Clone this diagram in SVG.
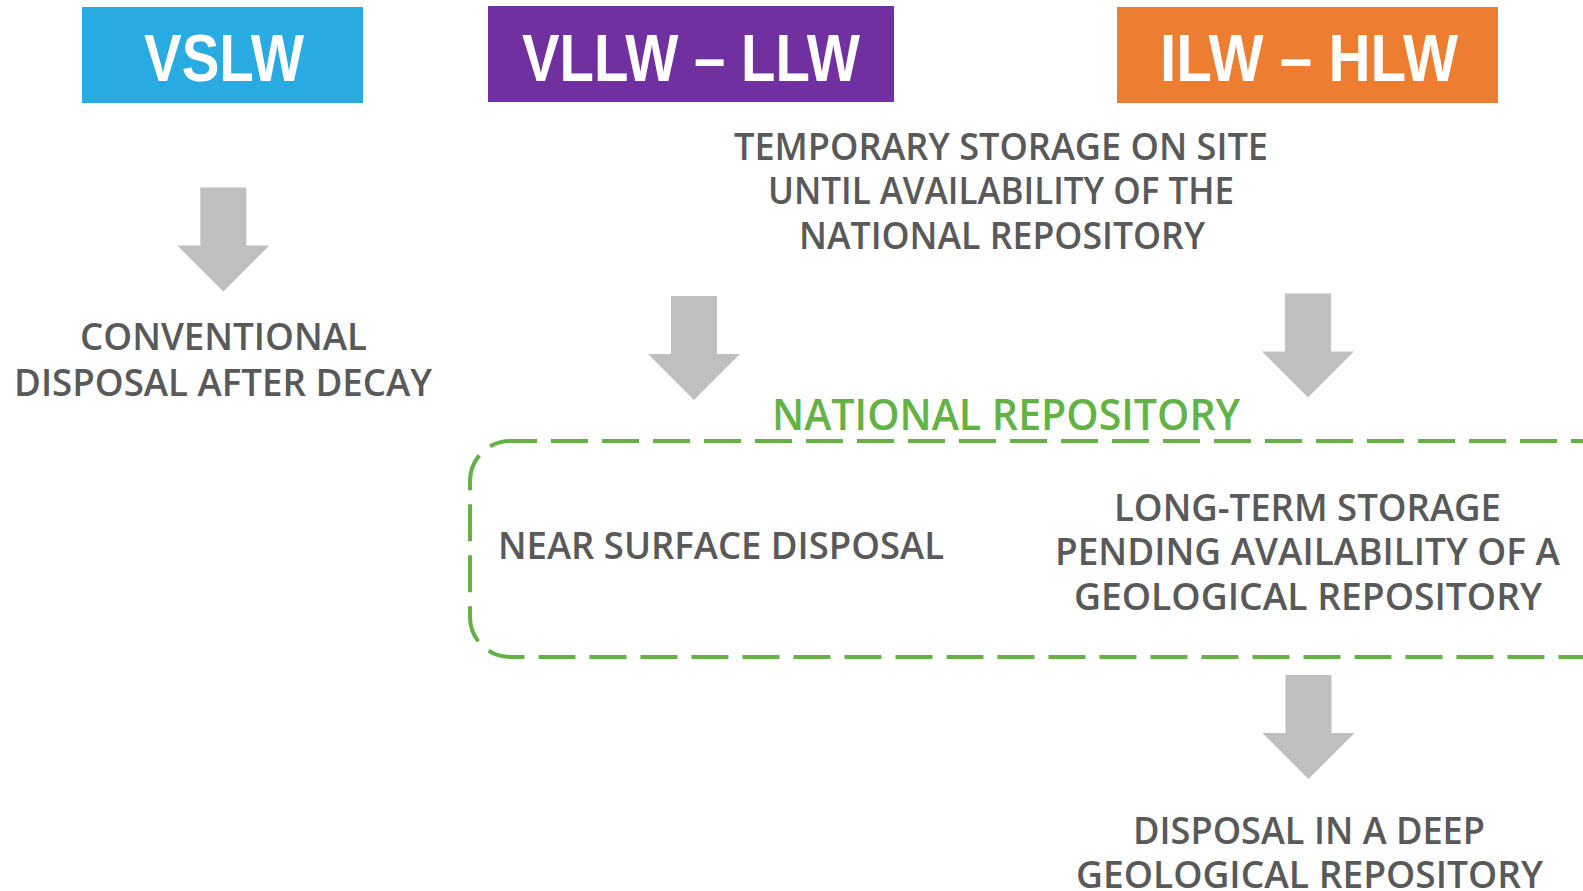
<svg xmlns="http://www.w3.org/2000/svg" width="1583" height="891" viewBox="0 0 1583 891">
  <style>
    .hdr { font-family: "Liberation Sans", Arial, sans-serif; font-size: 66px; font-weight: bold; fill: #FFFFFF; text-anchor: middle; }
    .lbl { font-family: "Open Sans", "Liberation Sans", sans-serif; font-size: 37.5px; font-weight: 600; fill: #595959; text-anchor: middle; }
    .grn { font-family: "Open Sans", "Liberation Sans", sans-serif; font-size: 43px; font-weight: 600; fill: #62B246; text-anchor: middle; }
    .arrow { fill: #BFBFBF; }
  </style>
  <defs>
    <path id="downArrow" d="M -23 0 H 23 V 58 H 46 L 0 104 L -46 58 H -23 Z"/>
  </defs>
  <rect width="1583" height="891" fill="#FFFFFF"/>

  <g id="vslw">
    <rect x="82" y="7" width="281" height="96" fill="#29ABE2"/>
    <text class="hdr" x="224" y="81" textLength="160" lengthAdjust="spacingAndGlyphs">VSLW</text>
  </g>
  <g id="vllw-llw">
    <rect x="488" y="6" width="406" height="96" fill="#7030A0"/>
    <text class="hdr" x="691" y="81" textLength="338" lengthAdjust="spacingAndGlyphs">VLLW – LLW</text>
  </g>
  <g id="ilw-hlw">
    <rect x="1117" y="7" width="381" height="96" fill="#ED7D31"/>
    <text class="hdr" x="1309" y="81" textLength="298" lengthAdjust="spacingAndGlyphs">ILW – HLW</text>
  </g>

  <g id="conventional">
    <text class="lbl" x="223.5" y="350" textLength="287" lengthAdjust="spacingAndGlyphs">CONVENTIONAL</text>
    <text class="lbl" x="223" y="396" textLength="418" lengthAdjust="spacingAndGlyphs">DISPOSAL AFTER DECAY</text>
  </g>

  <g id="temporary-storage">
    <text class="lbl" x="1001" y="159.5" textLength="534" lengthAdjust="spacingAndGlyphs">TEMPORARY STORAGE ON SITE</text>
    <text class="lbl" x="1001" y="204" textLength="466" lengthAdjust="spacingAndGlyphs">UNTIL AVAILABILITY OF THE</text>
    <text class="lbl" x="1002" y="248.5" textLength="406" lengthAdjust="spacingAndGlyphs">NATIONAL REPOSITORY</text>
  </g>

  <g id="national-repository">
    <rect x="470" y="441" width="1150" height="216" rx="40" ry="40" fill="none" stroke="#62B246" stroke-width="4" stroke-dasharray="37 14" stroke-dashoffset="10"/>
    <text class="grn" x="1006" y="430" textLength="468" lengthAdjust="spacingAndGlyphs">NATIONAL REPOSITORY</text>
  </g>

  <g id="near-surface">
    <text class="lbl" x="721" y="559" textLength="446" lengthAdjust="spacingAndGlyphs">NEAR SURFACE DISPOSAL</text>
  </g>

  <g id="long-term-storage">
    <text class="lbl" x="1307.5" y="521" textLength="387" lengthAdjust="spacingAndGlyphs">LONG-TERM STORAGE</text>
    <text class="lbl" x="1307.5" y="565" textLength="505" lengthAdjust="spacingAndGlyphs">PENDING AVAILABILITY OF A</text>
    <text class="lbl" x="1308" y="610" textLength="468" lengthAdjust="spacingAndGlyphs">GEOLOGICAL REPOSITORY</text>
  </g>

  <g id="deep-disposal">
    <text class="lbl" x="1309" y="844" textLength="352" lengthAdjust="spacingAndGlyphs">DISPOSAL IN A DEEP</text>
    <text class="lbl" x="1309.5" y="888" textLength="467" lengthAdjust="spacingAndGlyphs">GEOLOGICAL REPOSITORY</text>
  </g>

  <g id="connectors">
    <use href="#downArrow" class="arrow" transform="translate(223.3,187.5)"/>
    <use href="#downArrow" class="arrow" transform="translate(694,296)"/>
    <use href="#downArrow" class="arrow" transform="translate(1308,293.5)"/>
    <use href="#downArrow" class="arrow" transform="translate(1308.5,675)"/>
  </g>
</svg>
